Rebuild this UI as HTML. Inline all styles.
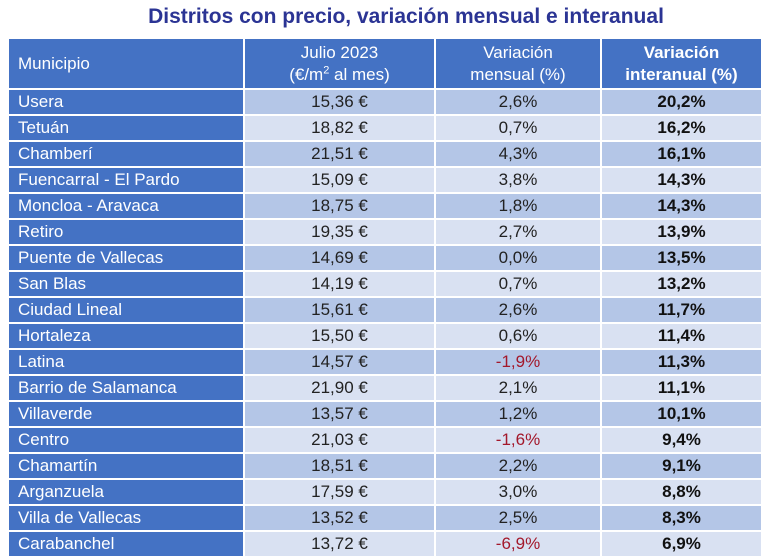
<!DOCTYPE html>
<html><head><meta charset="utf-8"><style>
body{margin:0;width:768px;height:560px;background:#fff;position:relative;overflow:hidden;font-family:"Liberation Sans","DejaVu Sans",sans-serif;}
#title{position:absolute;left:0;top:5px;width:812px;text-align:center;font-weight:bold;font-size:21px;color:#2b3494;}
table{position:absolute;left:7px;top:37px;border-collapse:collapse;table-layout:fixed;width:754px;}
td,th{border:2px solid #fff;padding:0;font-size:17px;height:24px;line-height:24px;}
th{background:#4472c4;color:#fff;font-weight:normal;height:49px;line-height:22px;text-align:center;}
th.first{text-align:left;padding-left:9px;}
td.name{background:#4472c4;color:#fff;padding-left:9px;}
tr.odd td.v{background:#b4c6e7;}
tr.even td.v{background:#d9e1f2;}
td.v{text-align:center;color:#222;}
td.b{font-weight:bold;color:#111;}
.neg{color:#a3182b !important;}
</style></head><body>
<div id="title">Distritos con precio, variación mensual e interanual</div>
<table>
<colgroup><col style="width:236px"><col style="width:191px"><col style="width:166px"><col style="width:161px"></colgroup>
<thead><tr>
<th class="first">Municipio</th>
<th>Julio 2023<br>(€/m<sup style="font-size:11px;line-height:0">2</sup> al mes)</th>
<th>Variación<br>mensual (%)</th>
<th style="font-weight:bold">Variación<br>interanual (%)</th>
</tr></thead>
<tbody id="tb"></tbody>
</table>
<script>
const names=["Usera","Tetuán","Chamberí","Fuencarral - El Pardo","Moncloa - Aravaca","Retiro","Puente de Vallecas","San Blas","Ciudad Lineal","Hortaleza","Latina","Barrio de Salamanca","Villaverde","Centro","Chamartín","Arganzuela","Villa de Vallecas","Carabanchel"];
const prices=["15,36 €","18,82 €","21,51 €","15,09 €","18,75 €","19,35 €","14,69 €","14,19 €","15,61 €","15,50 €","14,57 €","21,90 €","13,57 €","21,03 €","18,51 €","17,59 €","13,52 €","13,72 €"];
const monthly=["2,6%","0,7%","4,3%","3,8%","1,8%","2,7%","0,0%","0,7%","2,6%","0,6%","-1,9%","2,1%","1,2%","-1,6%","2,2%","3,0%","2,5%","-6,9%"];
const yearly=["20,2%","16,2%","16,1%","14,3%","14,3%","13,9%","13,5%","13,2%","11,7%","11,4%","11,3%","11,1%","10,1%","9,4%","9,1%","8,8%","8,3%","6,9%"];
const tb=document.getElementById('tb');
names.forEach((n,i)=>{
  const tr=document.createElement('tr');
  tr.className=i%2?'even':'odd';
  
  
  const c=[[n,'name'],[prices[i],'v'],[monthly[i],'v'+(monthly[i][0]=='-'?' neg':'')],[yearly[i],'v b']];
  c.forEach((x,j)=>{
    const td=document.createElement('td');
    td.className=x[1];td.textContent=x[0];
    
    
    tr.appendChild(td);
  });
  tb.appendChild(tr);
});
</script>
</body></html>
